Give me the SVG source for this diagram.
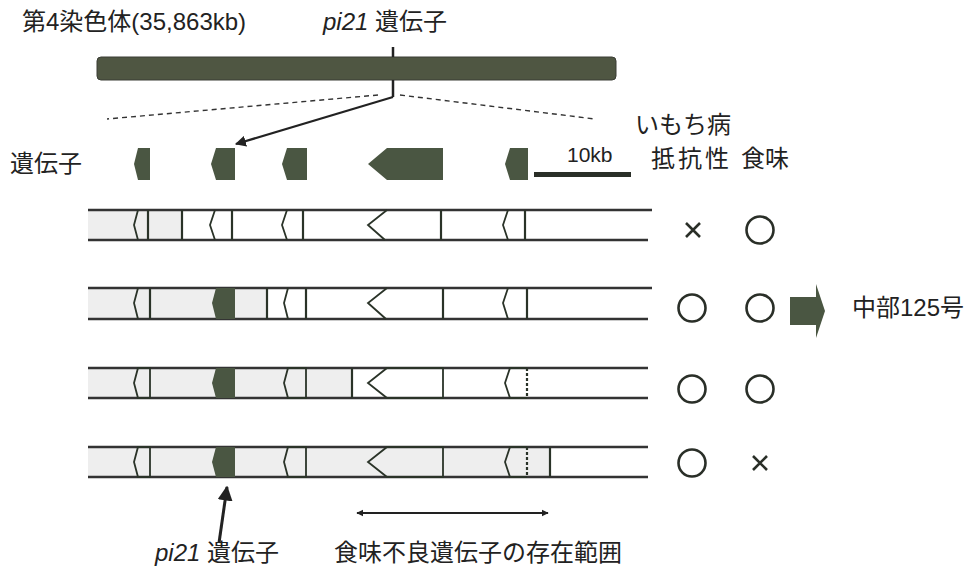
<svg xmlns="http://www.w3.org/2000/svg" width="965" height="567" viewBox="0 0 965 567">
<style>
text{font-family:"Liberation Sans","Noto Sans CJK JP",sans-serif;fill:#222;}
.t{font-size:24px;}
.it{font-style:italic;}
.rail{stroke:#333;stroke-width:2.5;fill:none;}
.v{stroke:#2a3328;stroke-width:2.2;fill:none;}
.o{stroke:#2a3328;stroke-width:1.8;fill:none;}
.gray{fill:#eeeeee;}
.gene{fill:#4a5642;}
.sym{stroke:#2a2f28;stroke-width:2.6;fill:none;}
.dash{stroke:#333;stroke-width:1.4;stroke-dasharray:5,4;fill:none;}
</style>
<defs>
<marker id="ah" viewBox="0 0 10 10" refX="9" refY="5" markerWidth="5" markerHeight="5" orient="auto-start-reverse">
<path d="M0,0 L10,5 L0,10 z" fill="#222"/>
</marker>
<marker id="ah2" viewBox="0 0 10 10" refX="9" refY="5" markerWidth="4" markerHeight="4" orient="auto-start-reverse">
<path d="M0,0 L10,5 L0,10 z" fill="#222"/>
</marker>
</defs>
<rect width="965" height="567" fill="#ffffff"/>

<g id="title">
<text x="22" y="30" class="t">第4染色体(35,863kb)</text>
</g>
<g id="pi21-top-label">
<text x="323" y="30" class="t"><tspan class="it">pi21</tspan> 遺伝子</text>
</g>

<g id="chromosome">
<rect x="97" y="57" width="519" height="23" rx="4" fill="#4f5642" stroke="#3a3d35" stroke-width="1"/>
</g>

<g id="connectors">
<line x1="393" y1="47" x2="393" y2="57" stroke="#222" stroke-width="2.5"/>
<polyline points="393,80 393,97" stroke="#222" stroke-width="2.5" fill="none"/>
<line x1="393" y1="97" x2="236" y2="144" stroke="#222" stroke-width="2.2" marker-end="url(#ah)"/>
<line x1="378" y1="95" x2="107" y2="119" class="dash"/>
<line x1="400" y1="95" x2="595" y2="119" class="dash"/>
<line x1="219" y1="543" x2="227" y2="487" stroke="#222" stroke-width="3" marker-end="url(#ah)"/>
<line x1="357" y1="513" x2="548" y2="513" stroke="#222" stroke-width="1.8" marker-start="url(#ah2)" marker-end="url(#ah2)"/>
</g>

<g id="gene-label">
<text x="10" y="172" class="t">遺伝子</text>
</g>

<g id="genes">
<polygon class="gene" points="138,148 150,148 150,180 138,180 134,164"/>
<polygon class="gene" points="216,148 235,148 235,180 216,180 211,164"/>
<polygon class="gene" points="287,148 307,148 307,180 287,180 282,164"/>
<polygon class="gene" points="387,148 443,148 443,180 387,180 368,164"/>
<polygon class="gene" points="510,148 528,148 528,180 510,180 505,164"/>
</g>

<g id="scale">
<text x="567" y="162" font-size="21px">10kb</text>
<rect x="534" y="172" width="97" height="5" fill="#2a2f28"/>
</g>

<g id="headers">
<text x="635" y="133" class="t" font-size="22px">いもち病</text>
<text x="651" y="167" class="t" letter-spacing="3">抵抗性</text>
<text x="741" y="167" class="t">食味</text>
</g>

<g id="row1">
<rect class="gray" x="88" y="210" width="94" height="30"/>
<line class="rail" x1="88" y1="210" x2="652" y2="210"/>
<line class="rail" x1="88" y1="240" x2="648" y2="240"/>
<polyline class="o" points="138,210 134,225 138,240"/>
<line class="v" x1="148" y1="210" x2="148" y2="240"/>
<line class="v" x1="182" y1="210" x2="182" y2="240"/>
<polyline class="o" points="215,210 210,225 215,240"/>
<line class="v" x1="232" y1="210" x2="232" y2="240"/>
<polyline class="o" points="287,210 282,225 287,240"/>
<line class="v" x1="303" y1="210" x2="303" y2="240"/>
<polyline class="o" points="387,210 368,225 385,240"/>
<line class="v" x1="441" y1="210" x2="441" y2="240"/>
<polyline class="o" points="508,210 503,225 508,240"/>
<line class="v" x1="525" y1="210" x2="525" y2="240"/>
</g>

<g id="row2">
<rect class="gray" x="88" y="288" width="179" height="31"/>
<line class="rail" x1="88" y1="288" x2="652" y2="288"/>
<line class="rail" x1="88" y1="319" x2="648" y2="319"/>
<polyline class="o" points="138,288 134,303 138,319"/>
<line class="v" x1="150" y1="288" x2="150" y2="319"/>
<polygon class="gene" points="216,288 235,288 235,319 216,319 212,303"/>
<line class="v" x1="267" y1="288" x2="267" y2="319"/>
<polyline class="o" points="288,288 284,303 288,319"/>
<line class="v" x1="306" y1="288" x2="306" y2="319"/>
<polyline class="o" points="387,288 368,303 386,319"/>
<line class="v" x1="443" y1="288" x2="443" y2="319"/>
<polyline class="o" points="508,288 503,303 508,319"/>
<line class="v" x1="527" y1="288" x2="527" y2="319"/>
</g>

<g id="row3">
<rect class="gray" x="88" y="368" width="264" height="30"/>
<line class="rail" x1="88" y1="368" x2="648" y2="368"/>
<line class="rail" x1="88" y1="398" x2="648" y2="398"/>
<polygon class="o" points="138,368 150,368 150,398 138,398 134,383"/>
<polygon class="gene" points="216,368 235,368 235,398 216,398 212,383"/>
<polygon class="o" points="288,368 306,368 306,398 288,398 284,383"/>
<line class="v" x1="352" y1="368" x2="352" y2="398"/>
<polygon class="o" points="387,368 443,368 443,398 387,398 368,383"/>
<polyline class="o" points="527,368 510,368 505,383 510,398 527,398"/>
<line class="v" x1="527" y1="368" x2="527" y2="398" stroke-dasharray="3,2"/>
</g>

<g id="row4">
<rect class="gray" x="88" y="447" width="462" height="30"/>
<line class="rail" x1="88" y1="447" x2="648" y2="447"/>
<line class="rail" x1="88" y1="477" x2="648" y2="477"/>
<polygon class="o" points="138,447 150,447 150,477 138,477 134,462"/>
<polygon class="gene" points="216,447 235,447 235,477 216,477 212,462"/>
<polygon class="o" points="288,447 306,447 306,477 288,477 284,462"/>
<polygon class="o" points="387,447 443,447 443,477 387,477 368,462"/>
<polyline class="o" points="527,447 510,447 505,462 510,477 527,477"/>
<line class="v" x1="527" y1="447" x2="527" y2="477" stroke-dasharray="3,2"/>
<line class="v" x1="550" y1="447" x2="550" y2="477"/>
</g>

<g id="symbols">
<path class="sym" d="M686,223 L700,237 M700,223 L686,237" stroke-width="2"/>
<circle class="sym" cx="760" cy="230" r="13.5"/>
<circle class="sym" cx="692" cy="308" r="13.5"/>
<circle class="sym" cx="760" cy="308" r="13.5"/>
<circle class="sym" cx="692" cy="389" r="13.5"/>
<circle class="sym" cx="760" cy="389" r="13.5"/>
<circle class="sym" cx="692" cy="463" r="13.5"/>
<path class="sym" d="M753,456 L767,470 M767,456 L753,470" stroke-width="2"/>
</g>

<g id="result-arrow">
<polygon class="gene" points="790,297 816,297 816,284 825,311 816,338 816,325 790,325"/>
</g>
<g id="result-label">
<text x="852" y="316" class="t" font-size="22px">中部125号</text>
</g>

<g id="bottom-labels">
<text x="155" y="561" class="t"><tspan class="it">pi21</tspan> 遺伝子</text>
<text x="334" y="561" class="t">食味不良遺伝子の存在範囲</text>
</g>
</svg>
